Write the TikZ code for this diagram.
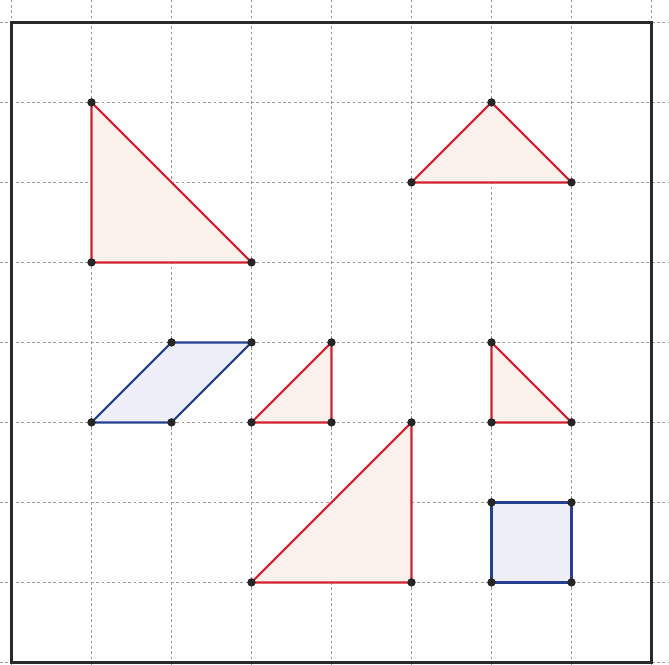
\documentclass[tikz,border=0pt]{standalone}
\usepackage{tikz}
\definecolor{redline}{HTML}{D42030}
\definecolor{redfill}{HTML}{FBF1EC}
\definecolor{blueline}{HTML}{24408E}
\definecolor{bluefill}{HTML}{EDEEF7}
\definecolor{gridgray}{HTML}{9A9A9A}
\definecolor{framegray}{HTML}{2A2A2A}
\tikzset{
  gridline/.style={gridgray, line width=0.45pt, dash pattern=on 1pt off 0.9pt},
  redshape/.style={draw=redline, fill=redfill, line width=0.8pt, line join=round},
  blueshape/.style={draw=blueline, fill=bluefill, line width=0.8pt, line join=round},
  frameline/.style={framegray, line width=1.1pt},
  vdot/.style={fill=black!85, draw=none}
}
\begin{document}
\begin{tikzpicture}[x=1cm,y=1cm]
\useasboundingbox (-0.14375,-0.03) rectangle (8.21875,8.28);
% grid
\foreach \i in {0,...,8} {
  \draw[gridline] (\i,-0.03) -- (\i,8.28);
  \draw[gridline] (-0.14375,\i) -- (8.21875,\i);
}
% frame
\draw[frameline] (0,0) rectangle (8,8);
% vertices
\coordinate (a1) at (1,7); \coordinate (a2) at (1,5); \coordinate (a3) at (3,5);
\coordinate (b1) at (5,6); \coordinate (b2) at (6,7); \coordinate (b3) at (7,6);
\coordinate (p1) at (1,3); \coordinate (p2) at (2,4); \coordinate (p3) at (3,4); \coordinate (p4) at (2,3);
\coordinate (c1) at (3,3); \coordinate (c2) at (4,4); \coordinate (c3) at (4,3);
\coordinate (d1) at (6,4); \coordinate (d2) at (6,3); \coordinate (d3) at (7,3);
\coordinate (e1) at (3,1); \coordinate (e2) at (5,3); \coordinate (e3) at (5,1);
\coordinate (s1) at (6,1); \coordinate (s2) at (7,1); \coordinate (s3) at (7,2); \coordinate (s4) at (6,2);
% shapes
\draw[redshape] (a1) -- (a2) -- (a3) -- cycle;
\draw[redshape] (b1) -- (b2) -- (b3) -- cycle;
\draw[blueshape] (p1) -- (p2) -- (p3) -- (p4) -- cycle;
\draw[redshape] (c1) -- (c2) -- (c3) -- cycle;
\draw[redshape] (d1) -- (d2) -- (d3) -- cycle;
\draw[redshape] (e1) -- (e2) -- (e3) -- cycle;
\draw[blueshape] (s1) -- (s2) -- (s3) -- (s4) -- cycle;
% dots
\foreach \n in {a1,a2,a3,b1,b2,b3,p1,p2,p3,p4,c1,c2,c3,d1,d2,d3,e1,e2,e3,s1,s2,s3,s4}
  \fill[vdot] (\n) circle (1.5pt);
\end{tikzpicture}
\end{document}
